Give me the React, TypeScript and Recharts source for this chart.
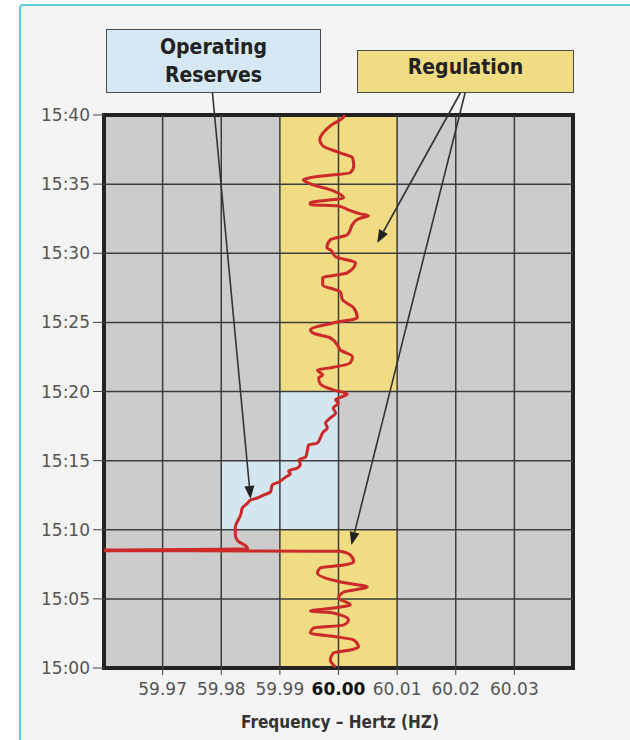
import { ComposedChart, Line, XAxis, YAxis, ReferenceArea, ReferenceLine } from 'recharts';

// minutes after 15:00 and measured frequency (Hz)
const minutes = [
  0.07, 0.58, 1.09, 1.3, 1.52, 2.03, 2.24, 2.53, 2.89, 3.11, 3.47, 3.98, 4.12, 4.34, 4.56, 5.07, 5.5, 5.86,
  6.22, 6.87, 7.24, 7.45, 7.67, 8.18, 8.45, 8.5, 8.62, 8.8, 9.2,
  9.62, 10.2, 10.71, 11.07, 11.57, 11.93, 12.15, 12.3, 12.51, 12.73, 13.24, 13.45, 13.82, 14.03, 14.25,
  14.47, 14.76, 15.05, 15.26, 15.77, 16.13, 16.27, 16.64, 17.07, 17.36, 17.72, 18.08, 18.44, 18.81, 19.17,
  19.39, 19.82,
  20.12, 20.55, 20.98, 21.2, 21.56, 21.71, 22.07, 22.5, 23.01, 23.23,
  23.88, 24.24, 24.46, 24.96, 25.33, 26.05, 26.63, 27.21, 27.71, 28.22, 28.58, 29.31, 29.74, 30.25, 30.39,
  30.97, 31.33, 32.2, 32.49, 32.71, 32.85, 33.14, 33.43, 33.5, 33.65, 34.01, 34.52, 35.02, 35.31, 35.6,
  35.82, 36.32, 36.9, 37.26, 37.77, 38.21, 39.22, 39.87, 40,
];
const hertz = [
  59.9995, 59.9986, 59.9991, 60.002, 60.0034, 60.0026, 59.9998, 59.9952, 59.9957, 60.0009, 60.0017, 59.9991,
  59.9952, 59.9991, 60.002, 60.0, 60.0009, 60.0049, 60.0003, 59.9964, 59.9969, 60.0009, 60.0026, 60.002,
  60.0003, 59.95, 59.9845, 59.9843, 59.9828,
  59.9824, 59.9824, 59.9829, 59.9833, 59.9836, 59.9845, 59.985, 59.9862, 59.9872, 59.9884, 59.9887, 59.9898,
  59.991, 59.9918, 59.9915, 59.993, 59.9935, 59.9932, 59.9944, 59.9947, 59.9949, 59.9964, 59.9969, 59.9974,
  59.9981, 59.9978, 59.9986, 59.9995, 59.9991, 60.0, 59.9995, 60.0015,
  59.9991, 59.9969, 59.9966, 59.9973, 59.9964,
  59.9986, 60.002, 60.0024, 60.0003, 60.0, 59.9986, 59.9956, 59.9952, 59.9991, 60.0032, 60.0026, 60.0007,
  60.0003, 59.9973, 59.9973, 60.0015, 60.0029, 59.9995, 59.9986, 59.998, 59.9986, 60.0015, 60.0026, 60.0034,
  60.0051, 60.0037, 60.0017, 59.9998, 59.9952, 59.9952, 60.0009, 59.9991, 59.9952, 59.994, 59.9974, 60.002,
  60.0026, 60.0024, 60.0003, 59.9973, 59.9968, 59.9986, 60.0009, 60.001,
];

const freqTicks = [59.97, 59.98, 59.99, 60.0, 60.01, 60.02, 60.03];
const timeTicks = [0, 5, 10, 15, 20, 25, 30, 35, 40];

const regulationBands = [
  { f1: 59.99, f2: 60.01, t1: 20, t2: 40 },
  { f1: 59.99, f2: 60.01, t1: 0, t2: 10 },
];
const reserveBands = [
  { f1: 59.99, f2: 60.0, t1: 10, t2: 20 },
  { f1: 59.98, f2: 59.99, t1: 10, t2: 15 },
];

// callout arrows, [from, to] in chart units
const arrows = [
  [{ x: 59.9785, y: 41.61 }, { x: 59.985, y: 12.23 }],
  [{ x: 60.0208, y: 41.61 }, { x: 60.0066, y: 30.75 }],
  [{ x: 60.0216, y: 41.61 }, { x: 60.0022, y: 8.9 }],
];

const data = minutes.map((t, i) => ({ t, hz: hertz[i] }));

const GRID = '#3c3c3c';

function FreqTick({ x, y, payload }: any) {
  const main = Math.abs(payload.value - 60) < 1e-6;
  return (
    <text
      x={x}
      y={y}
      dy="0.71em"
      textAnchor="middle"
      fontFamily="DejaVu Sans"
      fontSize={17}
      fontWeight={main ? 700 : 400}
      fill={main ? '#111' : '#555'}
    >
      {payload.value.toFixed(2)}
    </text>
  );
}

function Arrow(props: any) {
  const { x1, y1, x2, y2 } = props;
  const a = Math.atan2(y2 - y1, x2 - x1);
  const len = 13;
  const w = 5;
  const bx = x2 - len * Math.cos(a);
  const by = y2 - len * Math.sin(a);
  const px = -Math.sin(a) * w;
  const py = Math.cos(a) * w;
  return (
    <g>
      <line x1={x1} y1={y1} x2={bx} y2={by} stroke="#333" strokeWidth={1.6} />
      <polygon points={`${x2},${y2} ${bx + px},${by + py} ${bx - px},${by - py}`} fill="#222" />
    </g>
  );
}

const calloutFont = '"DejaVu Sans Condensed", "DejaVu Sans", sans-serif';

export default function App() {
  return (
    <div style={{ position: 'absolute', left: 0, top: 0, width: 630, height: 740, background: '#fff', overflow: 'hidden' }}>
      <div
        style={{
          position: 'absolute',
          left: 19,
          top: 4,
          width: 620,
          height: 760,
          boxSizing: 'border-box',
          border: '2px solid #5cc8e6',
          borderRadius: 4,
          background: '#f4f4f4',
        }}
      />
      <div style={{ position: 'absolute', left: 0, top: 0 }}>
        <ComposedChart
          width={630}
          height={740}
          data={data}
          layout="vertical"
          margin={{ top: 115, right: 57, bottom: 32, left: 44 }}
        >
          <XAxis
            type="number"
            dataKey="hz"
            domain={[59.96, 60.04]}
            allowDataOverflow
            ticks={freqTicks}
            interval={0}
            tick={<FreqTick />}
            tickSize={7}
            tickMargin={8}
            tickLine={{ stroke: '#444' }}
            axisLine={false}
            height={40}
          />
          <YAxis
            type="number"
            dataKey="t"
            domain={[0, 40]}
            reversed
            ticks={timeTicks}
            interval={0}
            tickFormatter={(v: number) => `15:${String(v).padStart(2, '0')}`}
            tick={{ fill: '#555', fontSize: 17, fontFamily: 'DejaVu Sans' }}
            tickSize={11}
            tickMargin={3}
            tickLine={{ stroke: '#444' }}
            axisLine={false}
            width={60}
          />
          <ReferenceArea x1={59.96} x2={60.04} y1={0} y2={40} fill="#cccccc" fillOpacity={1} stroke="none" />
          {regulationBands.map((b, i) => (
            <ReferenceArea key={`reg-${i}`} x1={b.f1} x2={b.f2} y1={b.t1} y2={b.t2} fill="#f0dc82" fillOpacity={1} stroke="none" />
          ))}
          {reserveBands.map((b, i) => (
            <ReferenceArea key={`res-${i}`} x1={b.f1} x2={b.f2} y1={b.t1} y2={b.t2} fill="#d4e7f1" fillOpacity={1} stroke="none" />
          ))}
          {freqTicks.map((f) => (
            <ReferenceLine key={`gx-${f}`} x={f} stroke={GRID} strokeWidth={1.5} />
          ))}
          {timeTicks.slice(1, -1).map((t) => (
            <ReferenceLine key={`gy-${t}`} y={t} stroke={GRID} strokeWidth={1.5} />
          ))}
          <ReferenceArea x1={59.96} x2={60.04} y1={0} y2={40} fill="none" stroke="#222" strokeWidth={4} />
          <Line
            dataKey="hz"
            type="monotone"
            stroke="#cc2a2a"
            strokeWidth={3}
            dot={false}
            activeDot={false}
            isAnimationActive={false}
          />
          {arrows.map((seg, i) => (
            <ReferenceLine key={`ar-${i}`} segment={seg} ifOverflow="visible" shape={(p: any) => <Arrow {...p} />} />
          ))}
        </ComposedChart>
      </div>
      <div
        style={{
          position: 'absolute',
          left: 106,
          top: 29,
          width: 215,
          height: 64,
          boxSizing: 'border-box',
          border: '1.5px solid #4a4a4a',
          background: '#d5e8f3',
          fontFamily: calloutFont,
          fontWeight: 700,
          fontSize: 21,
          lineHeight: '28px',
          color: '#222',
          textAlign: 'center',
          paddingTop: 3,
        }}
      >
        Operating
        <br />
        Reserves
      </div>
      <div
        style={{
          position: 'absolute',
          left: 357,
          top: 50,
          width: 217,
          height: 43,
          boxSizing: 'border-box',
          border: '1.5px solid #4a4a4a',
          background: '#f0dc82',
          fontFamily: calloutFont,
          fontWeight: 700,
          fontSize: 21,
          lineHeight: '30px',
          color: '#222',
          textAlign: 'center',
          paddingTop: 1,
        }}
      >
        Regulation
      </div>
      <div
        style={{
          position: 'absolute',
          left: 140,
          width: 400,
          top: 712,
          textAlign: 'center',
          fontFamily: calloutFont,
          fontWeight: 700,
          fontSize: 17,
          color: '#333',
        }}
      >
        Frequency – Hertz (HZ)
      </div>
    </div>
  );
}
